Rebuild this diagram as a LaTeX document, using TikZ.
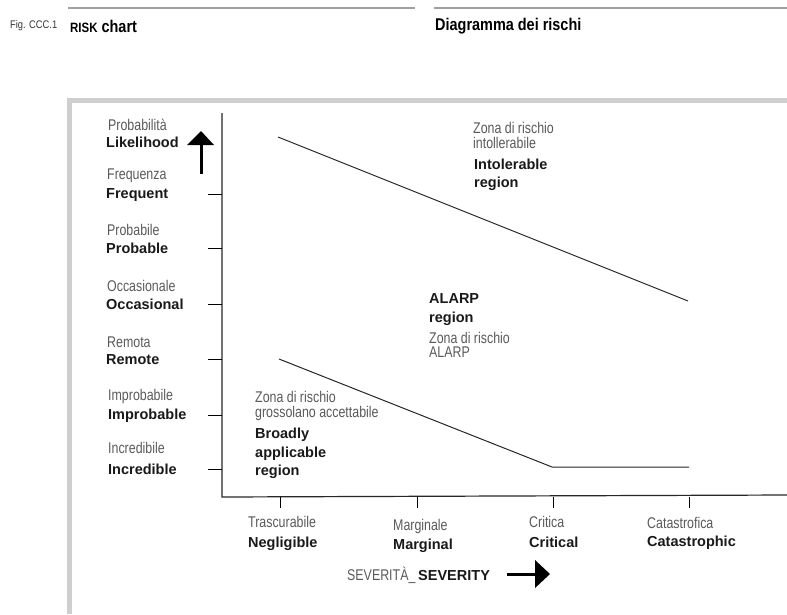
\documentclass[tikz,border=0pt]{standalone}
\usepackage{fontspec}
\setmainfont{Liberation Sans}
\newfontfamily\itf[FakeStretch=0.8]{Liberation Sans}
\newfontfamily\hdf[FakeStretch=0.85,BoldFont={Liberation Sans Bold}]{Liberation Sans}
\definecolor{itgray}{HTML}{5A5A5A}
\definecolor{framegray}{HTML}{CFCFCF}
\definecolor{hdgray}{HTML}{A0A0A0}
\tikzset{
  en/.style={anchor=west,inner sep=0pt,font=\fontsize{14.5}{16}\selectfont\bfseries,text=black!90,text height=10.4pt,text depth=0pt},
  itl/.style={anchor=west,inner sep=0pt,font=\fontsize{15.5}{17}\selectfont\itf,text=itgray,text height=11pt,text depth=0pt},
  tick/.style={line width=1pt,black},
  axis/.style={line width=1.2pt,black!85},
  zone/.style={line width=1pt,black!85},
  arr/.style={fill=black,draw=none},
}
\begin{document}
\begin{tikzpicture}[x=1pt,y=-1pt]
\useasboundingbox (0,0) rectangle (787,614);
% header
\draw[hdgray,line width=2pt] (68,8) -- (415,8);
\draw[hdgray,line width=2pt] (434,8) -- (787,8);
\node[anchor=west,inner sep=0pt,font=\fontsize{11}{12}\selectfont\hdf,text=black!80] (fig) at (10,26) {Fig. CCC.1};
\node[anchor=west,inner sep=0pt,font=\fontsize{17}{18}\selectfont\hdf\bfseries] (risk) at (70,26) {{\fontsize{13.5}{14}\selectfont RISK} chart};
\node[anchor=west,inner sep=0pt,font=\fontsize{17}{18}\selectfont\hdf\bfseries] (diag) at (435,26) {Diagramma dei rischi};
% frame
\draw[framegray,line width=5pt] (69.5,614) -- (69.5,100.5) -- (787,100.5);
% axes
\coordinate (O) at (222,497);
\coordinate (Ytop) at (222,113);
\coordinate (Xend) at (787,495);
\draw[axis] (Ytop) -- (O) -- (Xend);
% y ticks
\foreach \y/\n in {194/yf,248/yp,304/yo,359/yr,415/yi,469/yc}{
  \coordinate (\n) at (222,\y);
  \draw[tick] (208,\y) -- (\n);
}
% x ticks
\foreach \x/\n in {280/xn,417/xm,553/xc,689/xk}{
  \coordinate (\n) at (\x,497);
  \draw[tick] (\n) -- (\x,508);
}
% left labels
\node[itl] (l1i) at (108,125) {Probabilità};
\node[en]  (l1e) at (106,142) {Likelihood};
\node[itl] (l2i) at (107,174) {Frequenza};
\node[en]  (l2e) at (106,193) {Frequent};
\node[itl] (l3i) at (107,230) {Probabile};
\node[en]  (l3e) at (106,248) {Probable};
\node[itl] (l4i) at (107,286) {Occasionale};
\node[en]  (l4e) at (106,304) {Occasional};
\node[itl] (l5i) at (107,342) {Remota};
\node[en]  (l5e) at (106,359) {Remote};
\node[itl] (l6i) at (108,395) {Improbabile};
\node[en]  (l6e) at (108,414) {Improbable};
\node[itl] (l7i) at (108,448) {Incredibile};
\node[en]  (l7e) at (108,469) {Incredible};
% up arrow
\fill[arr] (199.5,174) rectangle (202.5,144);
\fill[arr] (187,145) -- (214,145) -- (201,131) -- cycle;
% bottom labels
\node[itl] (b1i) at (248,522) {Trascurabile};
\node[en]  (b1e) at (248,542) {Negligible};
\node[itl] (b2i) at (393,525) {Marginale};
\node[en]  (b2e) at (393,544) {Marginal};
\node[itl] (b3i) at (529,522) {Critica};
\node[en]  (b3e) at (529,542) {Critical};
\node[itl] (b4i) at (647,523) {Catastrofica};
\node[en]  (b4e) at (647,541) {Catastrophic};
% severity
\node[itl] (sevi) at (347,575) {SEVERITÀ\_};
\node[en]  (seve) at (418,575) {SEVERITY};
\fill[arr] (507,572.8) rectangle (536,575.6);
\fill[arr] (535,560) -- (535,588) -- (550,574) -- cycle;
% zone lines
\coordinate (u1) at (278,137);
\coordinate (u2) at (688,301);
\draw[zone] (u1) -- (u2);
\coordinate (d1) at (279,359);
\coordinate (d2) at (552,467);
\coordinate (d3) at (689,467);
\draw[zone] (d1) -- (d2) -- (d3);
% region texts
\node[itl] (r1a) at (473,128) {Zona di rischio};
\node[itl] (r1b) at (473,143) {intollerabile};
\node[en]  (r1c) at (474,164) {Intolerable};
\node[en]  (r1d) at (474,182) {region};
\node[en]  (r2a) at (429,298) {ALARP};
\node[en]  (r2b) at (429,317) {region};
\node[itl] (r2c) at (429,338) {Zona di rischio};
\node[itl] (r2d) at (429,352) {ALARP};
\node[itl] (r3a) at (255,397) {Zona di rischio};
\node[itl] (r3b) at (255,412) {grossolano accettabile};
\node[en]  (r3c) at (255,433) {Broadly};
\node[en]  (r3d) at (255,452) {applicable};
\node[en]  (r3e) at (255,470) {region};
\end{tikzpicture}
\end{document}
